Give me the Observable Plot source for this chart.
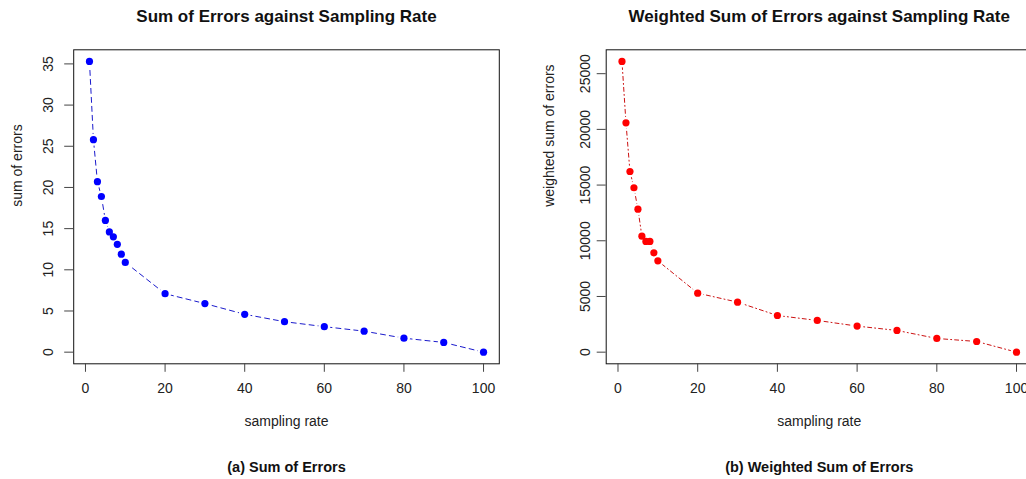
<!DOCTYPE html>
<html>
<head>
<meta charset="utf-8">
<script src="https://cdn.jsdelivr.net/npm/d3@7"></script>
<script src="https://cdn.jsdelivr.net/npm/@observablehq/plot@0.6"></script>
<style>
  html, body { margin: 0; padding: 0; background: #fff; overflow: hidden; }
  #wrap { position: relative; width: 1060px; height: 479px; font-family: "Liberation Sans", Arial, sans-serif; }
  .panel { position: absolute; top: 0; }
</style>
</head>
<body>
<div id="wrap"></div>
<script>
// ---- data ----
const samplingRate = [1, 2, 3, 4, 5, 6, 7, 8, 9, 10, 20, 30, 40, 50, 60, 70, 80, 90, 100];
const sumErrors = [35.3, 25.8, 20.7, 18.9, 16.0, 14.6, 14.0, 13.1, 11.9, 10.9, 7.1, 5.9, 4.6, 3.7, 3.1, 2.55, 1.7, 1.18, 0];
const weightedSumErrors = [26100, 20590, 16220, 14760, 12840, 10410, 9940, 9940, 8920, 8200, 5300, 4490, 3290, 2850, 2340, 1950, 1230, 960, 0];
const xTicks = [0, 20, 40, 60, 80, 100];
const yTicksA = [0, 5, 10, 15, 20, 25, 30, 35];
const yTicksB = [0, 5000, 10000, 15000, 20000, 25000];
const titles = ["Sum of Errors against Sampling Rate", "Weighted Sum of Errors against Sampling Rate"];
const captions = ["(a) Sum of Errors", "(b) Weighted Sum of Errors"];
const xLabel = "sampling rate";
const yLabels = ["sum of errors", "weighted sum of errors"];

const tableA = samplingRate.map((x, i) => ({x, y: sumErrors[i]}));
const tableB = samplingRate.map((x, i) => ({x, y: weightedSumErrors[i]}));

function ext(lo, hi) { const d = (hi - lo) * 0.04; return [lo - d, hi + d]; }

function panel({data, yTicks, title, caption, yLabel, color, lineColor, dash, width, mLeft, mRight, yPad, yLabelDx}) {
  const ys = data.map(d => d.y);
  return Plot.plot({
    width, height: 479,
    marginLeft: mLeft, marginRight: mRight, marginTop: 49.3, marginBottom: 115.7,
    style: {fontFamily: '"Liberation Sans", Arial, sans-serif', fontSize: "14px", color: "#222", background: "#fff"},
    x: {domain: ext(d3.min(data, d => d.x), d3.max(data, d => d.x))},
    y: {domain: ext(d3.min(ys), d3.max(ys))},
    marks: [
      Plot.frame({stroke: "#111", strokeWidth: 1}),
      Plot.axisX(xTicks, {tickSize: 8.5, tickPadding: 11, label: null, stroke: "#444", fill: "#222", fontSize: 14}),
      Plot.axisY(yTicks, {tickSize: 9, tickPadding: yPad, tickRotate: -90, label: null, stroke: "#444", fill: "#222", fontSize: 14, tickFormat: d => String(d)}),
      Plot.line(data, {x: "x", y: "y", stroke: lineColor, strokeWidth: 1, strokeDasharray: dash}),
      Plot.dot(data, {x: "x", y: "y", r: 6, fill: "#fff", stroke: null}),
      Plot.dot(data, {x: "x", y: "y", r: 3.6, fill: color, stroke: null}),
      Plot.text([title], {text: d => d, frameAnchor: "top", dy: -40, fontSize: 17, fontWeight: "bold", fill: "#111"}),
      Plot.text([xLabel], {text: d => d, frameAnchor: "bottom", dy: 62, fontSize: 14, fill: "#222"}),
      Plot.text([yLabel], {text: d => d, frameAnchor: "left", dx: yLabelDx, rotate: -90, fontSize: 14, fill: "#222"}),
      Plot.text([caption], {text: d => d, frameAnchor: "bottom", dy: 108, fontSize: 14.5, fontWeight: "bold", fill: "#111"})
    ]
  });
}

const wrap = document.getElementById("wrap");
const a = panel({data: tableA, yTicks: yTicksA, title: titles[0], caption: captions[0], yLabel: yLabels[0],
  color: "#0000ff", lineColor: "#1a1acc", dash: "5,4", width: 513, mLeft: 73.2, mRight: 14.2, yPad: 12, yLabelDx: -56});
a.classList.add("panel"); a.style.left = "0px";
wrap.appendChild(a);
const b = panel({data: tableB, yTicks: yTicksB, title: titles[1], caption: captions[1], yLabel: yLabels[1],
  color: "#ff0000", lineColor: "#cc1111", dash: "1,3,4,3", width: 540, mLeft: 92.7, mRight: 21.2, yPad: 7, yLabelDx: -57});
b.classList.add("panel"); b.style.left = "513px";
wrap.appendChild(b);
</script>
</body>
</html>
